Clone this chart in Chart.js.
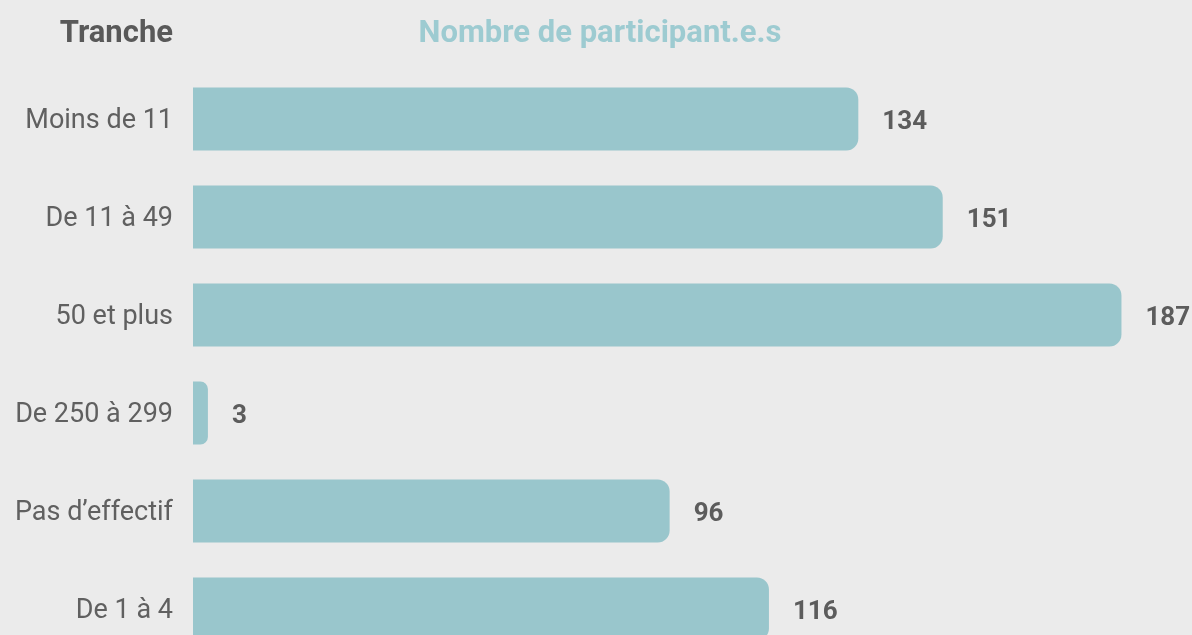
<!DOCTYPE html>
<html>
<head>
<meta charset="utf-8">
<script src="https://cdn.jsdelivr.net/npm/chart.js@4"></script>
<style>
  html, body { margin: 0; padding: 0; background: #ebebeb; overflow: hidden; }
  #wrap { width: 1192px; height: 700px; }
</style>
</head>
<body>
<div id="wrap"><canvas id="barChart"></canvas></div>
<script>
// données
const tranches = ['Moins de 11', 'De 11 à 49', '50 et plus', 'De 250 à 299', 'Pas d\u2019effectif', 'De 1 à 4'];
const participants = [134, 151, 187, 3, 96, 116];
const enTeteGauche = 'Tranche';
const enTeteDroite = 'Nombre de participant.e.s';

const FONT = 'Roboto, "Noto Sans", sans-serif';

// valeurs au bout des barres + en-têtes
const labelPlugin = {
  id: 'labelPlugin',
  afterDatasetsDraw(chart) {
    const ctx = chart.ctx;
    const meta = chart.getDatasetMeta(0);
    ctx.save();
    ctx.font = 'bold 26px ' + FONT;
    ctx.fillStyle = '#5c5c5c';
    ctx.textAlign = 'left';
    ctx.textBaseline = 'middle';
    meta.data.forEach((bar, i) => {
      ctx.fillText(participants[i], bar.x + 24, bar.y + 3);
    });

    ctx.font = 'bold 31px ' + FONT;
    ctx.textAlign = 'right';
    ctx.fillStyle = '#595959';
    ctx.fillText(enTeteGauche, chart.chartArea.left - 20, 34);
    ctx.textAlign = 'center';
    ctx.fillStyle = '#9dcbd1';
    ctx.fillText(enTeteDroite, 600, 34);
    ctx.restore();
  }
};

let barCtx = document.getElementById('barChart');

let barConfig = {
  type: 'bar',
  data: {
    labels: tranches,
    datasets: [{
      data: participants,
      backgroundColor: '#99c6cc',
      borderRadius: 12,
      borderSkipped: 'start',
      categoryPercentage: 1,
      barPercentage: 0.643
    }]
  },
  options: {
    indexAxis: 'y',
    responsive: true,
    maintainAspectRatio: false,
    animation: false,
    layout: {
      padding: { top: 70, bottom: 42, left: 0, right: 6 }
    },
    plugins: {
      legend: { display: false },
      tooltip: { enabled: false }
    },
    scales: {
      x: {
        display: false,
        min: 0,
        max: 200
      },
      y: {
        grid: { display: false, drawTicks: false },
        border: { display: false },
        afterFit(scale) {
          scale.width = 193; // les barres commencent à x=193
        },
        ticks: {
          padding: 20,
          labelOffset: 2,
          color: '#606060',
          font: { family: FONT, size: 27 }
        }
      }
    }
  },
  plugins: [labelPlugin]
};

let barChart = new Chart(barCtx, barConfig);
</script>
</body>
</html>
